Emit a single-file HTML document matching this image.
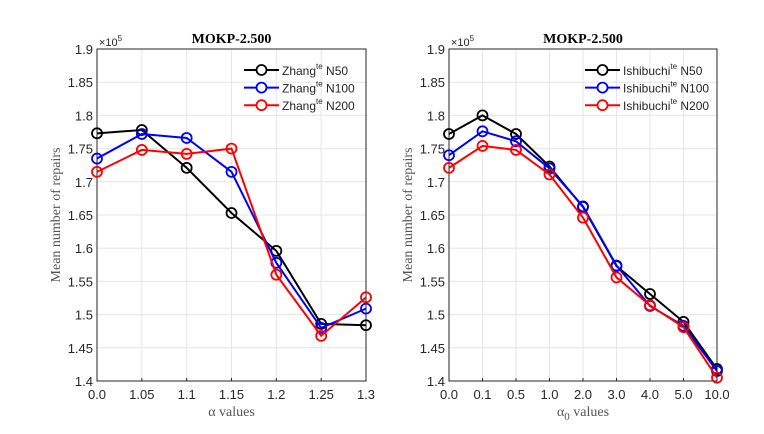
<!DOCTYPE html>
<html><head><meta charset="utf-8"><style>
body{margin:0;background:#fff;width:764px;height:434px;overflow:hidden}
svg{display:block}
text{font-family:"Liberation Sans",sans-serif}
.serif{font-family:"Liberation Serif",serif}
</style></head><body>
<svg id="chart" width="764" height="434" xmlns="http://www.w3.org/2000/svg"></svg>
<script>
const yTicks=[1.4,1.45,1.5,1.55,1.6,1.65,1.7,1.75,1.8,1.85,1.9];
const yTickLabels=["1.4","1.45","1.5","1.55","1.6","1.65","1.7","1.75","1.8","1.85","1.9"];
const leftCategories=["0.0","1.05","1.1","1.15","1.2","1.25","1.3"];
const leftN50=[1.773,1.778,1.721,1.653,1.596,1.486,1.484];
const leftN100=[1.735,1.772,1.766,1.715,1.578,1.480,1.509];
const leftN200=[1.715,1.748,1.742,1.750,1.560,1.468,1.526];
const rightCategories=["0.0","0.1","0.5","1.0","2.0","3.0","4.0","5.0","10.0"];
const rightN50=[1.772,1.800,1.772,1.723,1.662,1.573,1.531,1.489,1.418];
const rightN100=[1.740,1.776,1.761,1.720,1.663,1.574,1.513,1.483,1.415];
const rightN200=[1.721,1.754,1.748,1.711,1.646,1.556,1.514,1.481,1.405];
const seriesNames=["N50","N100","N200"];
const colors=["#000","#0000ff","#ff0000"];
const NS="http://www.w3.org/2000/svg";
const svg=document.getElementById('chart');
function mk(tag,attrs,parent,txt){const e=document.createElementNS(NS,tag);for(const k in attrs)e.setAttribute(k,attrs[k]);if(txt!==undefined)e.textContent=txt;(parent||svg).appendChild(e);return e;}
function panel(id,x0,x1,cats,series,prefix,xlabelSub){
  const yTop=49,yBot=381,yMin=1.4,yMax=1.9;
  const ys=v=>yBot-(v-yMin)/(yMax-yMin)*(yBot-yTop);
  const xs=i=>x0+i*(x1-x0)/(cats.length-1);
  const g=mk('g',{});
  
  
  mk('rect',{x:x0,y:yTop,width:x1-x0,height:yBot-yTop,fill:'#fff'},g);
  yTicks.forEach((t,i)=>{
    mk('line',{x1:x0,x2:x1,y1:ys(t),y2:ys(t),stroke:'#e6e6e6','stroke-width':1},g);
    const tl=mk('text',{x:x0-4,y:ys(t)+5,'text-anchor':'end','font-size':13,fill:'#262626'},g,yTickLabels[i]);
    
    
  });
  cats.forEach((c,i)=>{
    mk('line',{x1:xs(i),x2:xs(i),y1:yTop,y2:yBot,stroke:'#e6e6e6','stroke-width':1},g);
    mk('line',{x1:xs(i),x2:xs(i),y1:yBot,y2:yBot-3,stroke:'#262626'},g);
    const tl=mk('text',{x:xs(i),y:yBot+18,'text-anchor':'middle','font-size':13,fill:'#262626'},g,c);
    
    
  });
  mk('rect',{x:x0,y:yTop,width:x1-x0,height:yBot-yTop,fill:'none',stroke:'#262626','stroke-width':1},g);
  const ex=mk('text',{x:x0+2,y:yTop-3,'font-size':11,fill:'#262626'},g,'×10');
  mk('tspan',{dy:-5,'font-size':8},ex,'5');
  
  
  const ti=mk('text',{x:(x0+x1)/2,y:43,'text-anchor':'middle','font-size':14,'font-weight':'bold',class:'serif'},g,'MOKP-2.500');
  
  
  const xl=mk('text',{x:(x0+x1)/2,y:416,'text-anchor':'middle','font-size':14,fill:'#555',class:'serif'},g,'α');
  if(xlabelSub){mk('tspan',{dy:4,'font-size':11},xl,'0');mk('tspan',{dy:-4},xl,' values');}
  else mk('tspan',{},xl,' values');
  
  
  const yl=mk('text',{x:0,y:0,'text-anchor':'middle','font-size':14,fill:'#555',class:'serif',transform:`translate(${x0-37},${(yTop+yBot)/2}) rotate(-90)`},g,'Mean number of repairs');
  
  
  series.forEach((s,k)=>{
    const pl=mk('polyline',{points:s.map((v,i)=>xs(i)+','+ys(v)).join(' '),fill:'none',stroke:colors[k],'stroke-width':2},g);
    
    
    s.forEach((v,i)=>{
      const c=mk('circle',{cx:xs(i),cy:ys(v),r:5,fill:'none',stroke:colors[k],'stroke-width':1.8},g);
      
      
    });
  });
  // legend
  const lx=id==='left'?244:585;
  series.forEach((s,k)=>{
    const ly=70+k*17.6;
    const lg=mk('g',{},g);
    
    
    mk('line',{x1:lx,x2:lx+35,y1:ly,y2:ly,stroke:colors[k],'stroke-width':2},lg);
    mk('circle',{cx:lx+17.5,cy:ly,r:5,fill:'#fff',stroke:colors[k],'stroke-width':1.8},lg);
    const t=mk('text',{x:lx+38,y:ly+5,'font-size':12,fill:'#262626'},lg,prefix);
    mk('tspan',{dy:-6,'font-size':8},t,'te');
    mk('tspan',{dy:6},t,' '+seriesNames[k]);
  });
}
panel('left',97,366,leftCategories,[leftN50,leftN100,leftN200],'Zhang',false);
panel('right',449,717,rightCategories,[rightN50,rightN100,rightN200],'Ishibuchi',true);
</script>
</body></html>
